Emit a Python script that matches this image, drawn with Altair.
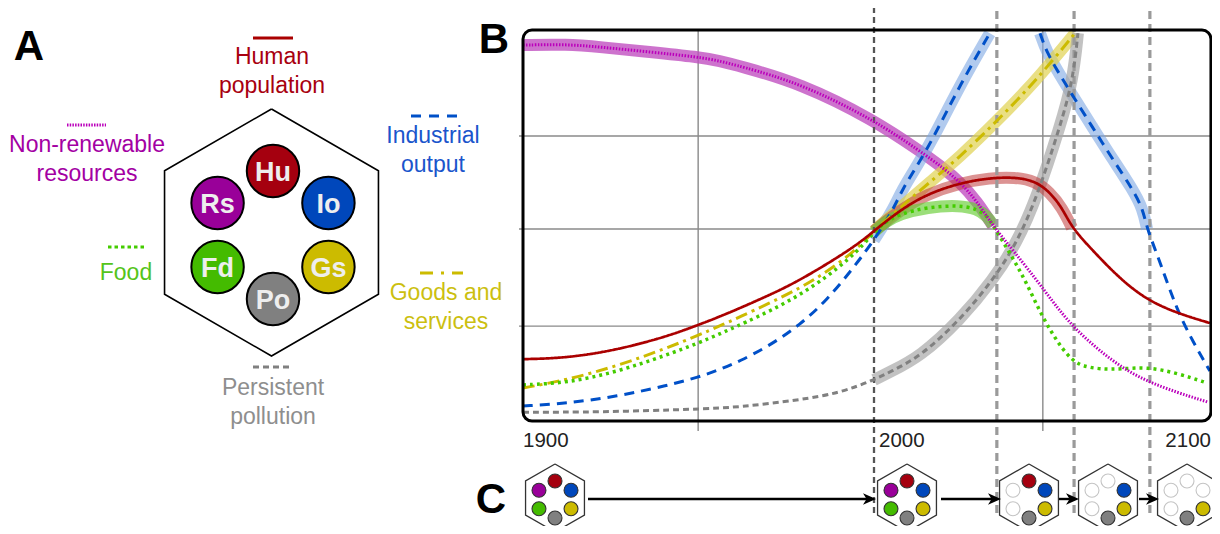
import math
import altair as alt
import pandas as pd

# ================= Panel B : schematic trajectories =================
# x = calendar year, y = relative level (grid lines at ~25 / 50 / 75)
hu_years  = [1900, 1912.5, 1926.8, 1941.0, 1949.9, 1956.1, 1961.8, 1970.0, 1978.9, 1994.0, 2000, 2007.4,
             2015.1, 2024.5, 2033.0, 2040.2, 2045.9, 2050.1, 2053.6, 2056.4, 2062.4, 2070.1, 2077.8,
             2086.3, 2095.7]
hu_levels = [16.1, 16.4, 18.5, 22.0, 25.0, 27.2, 29.4, 32.7, 36.6, 45.0, 49.5, 54.9,
             59.1, 62.0, 63.3, 63.5, 62.5, 59.6, 55.5, 50.3, 44.3, 37.0, 31.5,
             28.1, 25.5]

rs_years  = [1900, 1912.5, 1921.9, 1936.2, 1949.9, 1956.1, 1961.8, 1978.9, 2000, 2013.1, 2019.7, 2024.5,
             2029.3, 2033.9, 2039.6, 2047.9, 2055.8, 2067.2, 2077.8, 2095.2]
rs_levels = [97.9, 98.1, 97.4, 96.1, 94.8, 93.75, 92.4, 88.0, 78.4, 70.3, 65.9, 62.2,
             57.3, 50.8, 44.5, 34.9, 25.0, 15.9, 9.9, 4.9]

io_years_a  = [1900, 1912.5, 1926.8, 1941.0, 1949.9, 1956.1, 1961.8, 1970.0, 1978.9, 1986.6, 1994.0,
               2000, 2005.4, 2008.0, 2012.3, 2016.8, 2024.5, 2033.0]
io_levels_a = [3.9, 4.6, 6.4, 9.2, 11.4, 13.4, 15.6, 19.5, 25.0, 31.5, 39.7,
               47.1, 54.9, 60.2, 66.5, 73.5, 87.5, 101.0]
io_years_b  = [2047.3, 2049.3, 2053.0, 2055.8, 2062.4, 2067.2, 2073.8, 2076.6, 2077.8, 2081.5,
               2086.3, 2090.9, 2095.7]
io_levels_b = [101.0, 95.8, 90.1, 85.9, 76.3, 69.3, 60.2, 55.2, 50.0, 41.4, 28.9, 20.6, 13.0]

gs_years  = [1900, 1912.5, 1926.8, 1941.0, 1949.9, 1956.1, 1961.8, 1970.0, 1978.9, 1986.0, 1994.0,
             2000, 2007.4, 2015.9, 2024.5, 2035.0, 2043.6, 2051.0, 2057.3]
gs_levels = [8.6, 10.7, 14.3, 19.0, 22.3, 24.8, 27.1, 30.6, 34.6, 38.5, 43.8,
             49.5, 55.5, 62.2, 68.8, 78.1, 86.2, 94.0, 101.0]

fd_years  = [1900, 1912.5, 1926.8, 1941.0, 1949.9, 1956.1, 1961.8, 1978.9, 1994.0, 2000, 2003.1,
             2007.4, 2015.1, 2024.5, 2029.3, 2032.2, 2033.9, 2039.6, 2043.6, 2048.1, 2053.0,
             2056.4, 2059.3, 2064.4, 2070.1, 2077.8, 2086.3, 2094.9]
fd_levels = [9.4, 9.9, 12.8, 17.2, 20.3, 22.7, 25.0, 32.3, 42.7, 49.2, 51.8,
             53.9, 55.7, 56.2, 55.2, 53.4, 51.0, 42.4, 35.7, 26.8, 19.5,
             15.9, 14.3, 13.5, 13.5, 14.1, 12.5, 9.9]

po_years  = [1900, 1921.9, 1949.9, 1961.8, 1978.9, 1990.3, 2000, 2004.6, 2013.1, 2024.5, 2033.9,
             2040.7, 2046.4, 2053.0, 2056.7, 2058.1]
po_levels = [2.3, 2.3, 3.1, 3.6, 5.5, 7.3, 10.7, 12.8, 16.7, 26.3, 36.7,
             46.4, 58.3, 76.6, 88.8, 101.0]

# highlighted (thick, translucent) stretches: (series, first year, last year)
band_ranges = [("rs", 1900, 2033.9), ("io", 2000, 2033.0), ("io", 2047.3, 2077.8),
               ("gs", 2000, 2057.3), ("po", 2000, 2058.1), ("hu", 2000, 2056.4),
               ("fd", 2000, 2033.9)]

phase_years = [2000, 2035.0, 2057.0, 2078.6]
grid_years = [1949.9, 2048.1]
grid_levels = [24.7, 50.0, 74.2]
tick_labels = ["1900", "2000", "2100"]
frame_years = [1900, 2096.0]
frame_levels = [0, 101.8]

# ================= Panel A / C : variables =================
var_codes = ["Hu", "Io", "Gs", "Po", "Fd", "Rs"]
var_names = {"Hu": ["Human", "population"], "Io": ["Industrial", "output"],
             "Gs": ["Goods and", "services"], "Po": ["Persistent", "pollution"],
             "Fd": ["Food"], "Rs": ["Non-renewable", "resources"]}
var_angles = {"Hu": 90, "Io": 30, "Gs": -30, "Po": -90, "Fd": 210, "Rs": 150}
c_active = [["Hu", "Io", "Gs", "Po", "Fd", "Rs"],
            ["Hu", "Io", "Gs", "Po", "Fd", "Rs"],
            ["Hu", "Io", "Gs", "Po"],
            ["Io", "Gs", "Po"],
            ["Gs", "Po"]]

# ================= styles =================
FONT = "Liberation Sans"
CURVE = "basis"
circle_fill = {"Hu": "#A5000F", "Io": "#0047BB", "Gs": "#CCBB00", "Po": "#808080",
               "Fd": "#44BB00", "Rs": "#990099"}
label_color = {"Hu": "#A8000F", "Io": "#1A55CC", "Gs": "#CCBF10", "Po": "#8E8E8E",
               "Fd": "#55C41A", "Rs": "#A300A3"}
thin_style = {"hu": ("#AA0000", [1, 0], 2.7), "rs": ("#BB00BB", [1.5, 1.5], 3),
              "io": ("#0050C8", [10, 7], 3), "fd": ("#44CC00", [3, 4], 3.5),
              "gs": ("#CCBB00", [12, 5, 3, 5], 3), "po": ("#808080", [6, 4], 3)}
band_style = {"hu": ("#C03A3A", 0.55), "rs": ("#C050C0", 0.8), "io": ("#7DA7E3", 0.6),
              "fd": ("#66CC33", 0.65), "gs": ("#E0D250", 0.7), "po": ("#A8A8A8", 0.7)}

# ================= layout (page pixels -> data units) =================
PX_YEAR, PX_LEVEL = 3.51, 3.84
def X(px):
    return 1900 + (px - 523) / PX_YEAR
def Y(py):
    return (421 - py) / PX_LEVEL

XS = alt.Scale(domain=[X(8), X(1212)], nice=False, zero=False)
YS = alt.Scale(domain=[Y(526), Y(8)], nice=False, zero=False)
def ex(f="x"):
    return alt.X(f"{f}:Q", scale=XS, axis=None)
def ey(f="y"):
    return alt.Y(f"{f}:Q", scale=YS, axis=None)

layers = []

# ---- grid ----
hg = pd.DataFrame({"x": X(519), "x2": frame_years[1], "y": grid_levels})
layers.append(alt.Chart(hg).mark_rule(color="#8a8a8a", strokeWidth=1.4).encode(
    x=ex(), x2="x2:Q", y=ey()))
vg = pd.DataFrame({"x": grid_years, "y": Y(431), "y2": frame_levels[1]})
layers.append(alt.Chart(vg).mark_rule(color="#8a8a8a", strokeWidth=1.4).encode(
    x=ex(), y=ey(), y2="y2:Q"))

series = {"hu": [(hu_years, hu_levels)], "rs": [(rs_years, rs_levels)],
          "io": [(io_years_a, io_levels_a), (io_years_b, io_levels_b)],
          "gs": [(gs_years, gs_levels)], "fd": [(fd_years, fd_levels)],
          "po": [(po_years, po_levels)]}

# ---- highlight bands ----
for k, (s, lo, hi) in enumerate(band_ranges):
    rows = []
    for seg, (yrs, lv) in enumerate(series[s]):
        for yv, v in zip(yrs, lv):
            if lo - 1e-6 <= yv <= hi + 1e-6:
                rows.append({"x": yv, "y": v, "seg": seg})
    col, op = band_style[s]
    layers.append(alt.Chart(pd.DataFrame(rows)).mark_line(
        color=col, opacity=op, strokeWidth=12, interpolate=CURVE).encode(
        x=ex(), y=ey(), detail="seg:N"))

# ---- phase lines ----
ph = pd.DataFrame({"x": phase_years, "y": Y(513), "y2": Y(8),
                   "dark": [True, False, False, False]})
layers.append(alt.Chart(ph[ph.dark]).mark_rule(
    color="#555555", strokeWidth=2.3, strokeDash=[6, 4]).encode(x=ex(), y=ey(), y2="y2:Q"))
layers.append(alt.Chart(ph[~ph.dark]).mark_rule(
    color="#9a9a9a", strokeWidth=3.2, strokeDash=[8, 5]).encode(x=ex(), y=ey(), y2="y2:Q"))

# ---- thin trajectories ----
for s in ["po", "io", "gs", "fd", "rs", "hu"]:
    rows = []
    for seg, (yrs, lv) in enumerate(series[s]):
        rows += [{"x": a, "y": b, "seg": seg} for a, b in zip(yrs, lv)]
    col, dash, w = thin_style[s]
    layers.append(alt.Chart(pd.DataFrame(rows)).mark_line(
        color=col, strokeDash=dash, strokeWidth=w, interpolate=CURVE).encode(
        x=ex(), y=ey(), detail="seg:N"))

# ---- frame ----
fr = pd.DataFrame({"x": [frame_years[0]], "x2": [frame_years[1]],
                   "y": [frame_levels[0]], "y2": [frame_levels[1]]})
layers.append(alt.Chart(fr).mark_rect(fill="transparent", stroke="black", strokeWidth=3,
                                      cornerRadius=9).encode(x=ex(), x2="x2:Q", y=ey(), y2="y2:Q"))

# ---- x tick labels ----
tl = pd.DataFrame({"x": [1900, X(879)], "y": Y(447), "t": tick_labels[:2]})
layers.append(alt.Chart(tl).mark_text(font=FONT, fontSize=20.5, color="#222222", align="left",
                                      baseline="alphabetic").encode(x=ex(), y=ey(), text="t:N"))
tr = pd.DataFrame({"x": [frame_years[1]], "y": [Y(447)], "t": tick_labels[2:]})
layers.append(alt.Chart(tr).mark_text(font=FONT, fontSize=20.5, color="#222222", align="right",
                                      baseline="alphabetic").encode(x=ex(), y=ey(), text="t:N"))

# ---- panel letters ----
pl = pd.DataFrame({"x": [X(29), X(494), X(491)], "y": [Y(60), Y(53), Y(513)], "t": ["A", "B", "C"]})
layers.append(alt.Chart(pl).mark_text(font=FONT, fontSize=42, fontWeight="bold", color="black",
                                      align="center", baseline="alphabetic").encode(
    x=ex(), y=ey(), text="t:N"))

# ---- hexagons (A and C) ----
def hex_rows(cx, cy, R, hid):
    out = []
    for k in range(7):
        a = math.radians(60 * k)
        out.append({"x": X(cx + R * math.sin(a)), "y": Y(cy - R * math.cos(a)), "k": k, "h": hid})
    return out

layers.append(alt.Chart(pd.DataFrame(hex_rows(271.5, 232.5, 123.5, 0))).mark_line(
    color="black", strokeWidth=1.6).encode(x=ex(), y=ey(), order="k:Q", detail="h:N"))

c_hex_px = [555, 907, 1029, 1108, 1187]
hc = []
for i, cx in enumerate(c_hex_px):
    hc += hex_rows(cx, 498, 34, i)
layers.append(alt.Chart(pd.DataFrame(hc)).mark_line(
    color="#333333", strokeWidth=1.3).encode(x=ex(), y=ey(), order="k:Q", detail="h:N"))

# ---- panel A circles & labels ----
ca = []
for v in var_codes:
    a = math.radians(var_angles[v])
    px, py = 273 + 64 * math.cos(a), 235 - 64 * math.sin(a)
    ca.append({"x": X(px), "y": Y(py), "yt": Y(py + 10), "f": circle_fill[v], "t": v})
ca = pd.DataFrame(ca)
layers.append(alt.Chart(ca).mark_point(shape="circle", filled=True, size=2750, stroke="black",
                                       strokeWidth=2, opacity=1).encode(
    x=ex(), y=ey(), fill=alt.Fill("f:N", scale=None)))
layers.append(alt.Chart(ca).mark_text(font=FONT, fontSize=27, fontWeight="bold", color="#EEEEEE",
                                      align="center", baseline="alphabetic").encode(
    x=ex(), y=ey("yt"), text="t:N"))

# variable names around the hexagon (centre x, first baseline)
name_pos = {"Hu": (272, 64), "Rs": (87, 152), "Io": (433, 143), "Fd": (126, 280),
            "Gs": (446, 300), "Po": (273, 395)}
nm = []
for v in var_codes:
    cx, by = name_pos[v]
    for j, line in enumerate(var_names[v]):
        nm.append({"x": X(cx), "y": Y(by + 29 * j), "t": line, "c": label_color[v]})
layers.append(alt.Chart(pd.DataFrame(nm)).mark_text(font=FONT, fontSize=23, align="center",
                                                    baseline="alphabetic").encode(
    x=ex(), y=ey(), text="t:N", color=alt.Color("c:N", scale=None)))

# legend samples above the names
sample_pos = {"hu": (253, 293, 38), "rs": (67, 106, 125), "io": (411, 457, 116),
              "fd": (108, 145, 247), "gs": (420, 463, 273), "po": (253, 290, 367)}
sample_dash = {"hu": [1, 0], "rs": [1.5, 1.2], "io": [10, 8], "fd": [3.5, 3],
               "gs": [13, 8, 3, 8], "po": [6, 4]}
for s, (x0, x1, yy) in sample_pos.items():
    col = thin_style[s][0]
    d = pd.DataFrame({"x": [X(x0)], "x2": [X(x1)], "y": [Y(yy)]})
    layers.append(alt.Chart(d).mark_rule(color=col, strokeDash=sample_dash[s], strokeWidth=3.2).encode(
        x=ex(), x2="x2:Q", y=ey()))

# ---- panel C: arrows ----
arrow_px = [(588, 876), (941, 1001), (1059, 1079), (1139, 1159)]
ar = pd.DataFrame({"x": [X(a) for a, b in arrow_px], "x2": [X(b - 4) for a, b in arrow_px],
                   "y": Y(499), "xh": [X(b - 6.5) for a, b in arrow_px]})
layers.append(alt.Chart(ar).mark_rule(color="black", strokeWidth=2.4).encode(
    x=ex(), x2="x2:Q", y=ey()))
layers.append(alt.Chart(ar).mark_point(shape="M1,0L-1,-0.9L-0.45,0L-1,0.9Z", size=169,
                                       filled=True, color="black", opacity=1).encode(
    x=ex("xh"), y=ey()))

# ---- panel C: state circles ----
cc = []
for i, cx in enumerate(c_hex_px):
    for v in var_codes:
        a = math.radians(var_angles[v])
        px, py = cx + 18.5 * math.cos(a), 499.5 - 18.5 * math.sin(a)
        on = v in c_active[i]
        cc.append({"x": X(px), "y": Y(py), "f": circle_fill[v] if on else "#FFFFFF",
                   "s": "#333333" if on else "#C4C4C4"})
layers.append(alt.Chart(pd.DataFrame(cc)).mark_point(shape="circle", filled=True, size=195,
                                                     strokeWidth=1.1, opacity=1).encode(
    x=ex(), y=ey(), fill=alt.Fill("f:N", scale=None), stroke=alt.Stroke("s:N", scale=None)))

chart = alt.layer(*layers).properties(
    width=1204, height=518, padding=0,
    autosize=alt.AutoSizeParams(type="none")
).configure_view(strokeWidth=0)

chart.save("out.html", embed_options={"renderer": "svg", "actions": False})
